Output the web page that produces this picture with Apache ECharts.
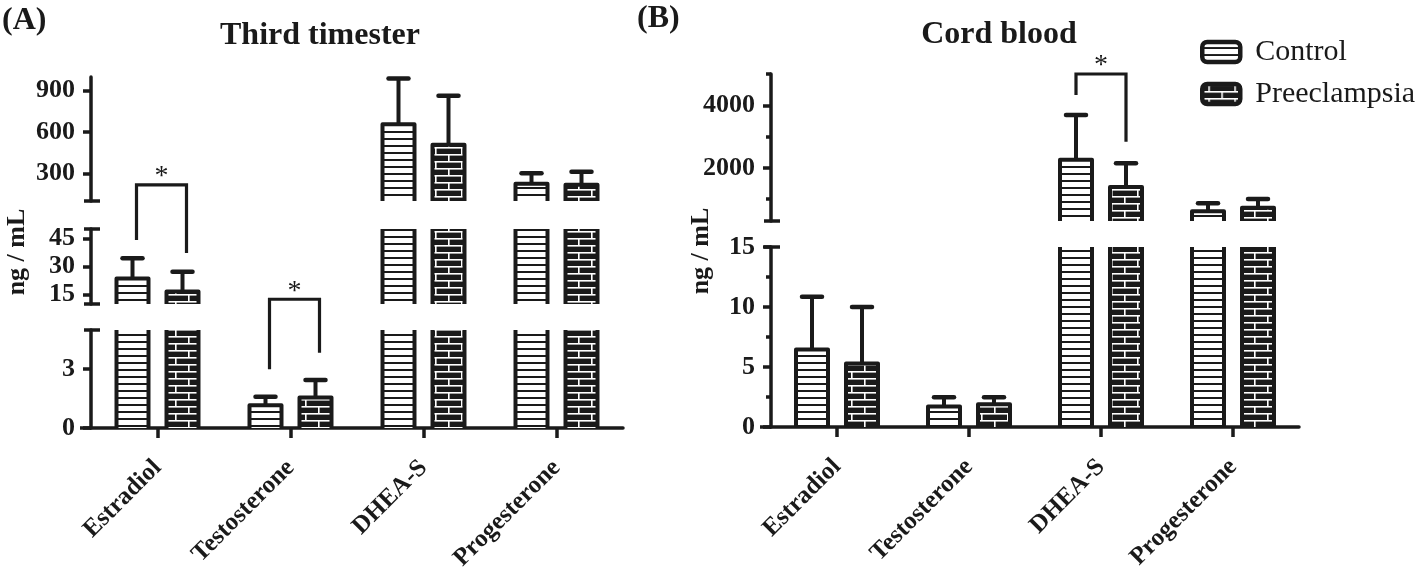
<!DOCTYPE html>
<html><head><meta charset="utf-8">
<script src="https://cdn.jsdelivr.net/npm/echarts@6/dist/echarts.min.js"></script>
<style>html,body{margin:0;padding:0;background:#fff}#c{width:1418px;height:574px}</style>
</head><body><div id="c"></div>
<script>
// ---------------- DATA ----------------
const categories = ['Estradiol', 'Testosterone', 'DHEA-S', 'Progesterone'];
const seriesNames = ['Control', 'Preeclampsia'];
// (A) Third trimester, ng/mL: mean and SD
const thirdControlMean = [23.6, 1.16, 657, 225];
const thirdControlSD   = [10.8, 0.44, 333, 76];
const thirdPreMean     = [16.7, 1.55, 509, 218];
const thirdPreSD       = [10.5, 0.90, 355, 95];
// (B) Cord blood, ng/mL: mean and SD
const cordControlMean = [6.45, 1.7, 2260, 610];
const cordControlSD   = [4.41, 0.77, 1429, 256];
const cordPreMean     = [5.3, 1.9, 1390, 720];
const cordPreSD       = [4.7, 0.57, 755, 283];
// tick labels of each broken-axis segment (bottom to top)
const thirdTicks = [[0, 3], [15, 30, 45], [300, 600, 900]];
const thirdRanges = [[0, 5], [10, 50], [100, 1000]];
const cordTicks = [[0, 5, 10, 15], [2000, 4000]];
const cordMinorTicks = [[2.5, 7.5, 12.5], [1000, 3000, 5000]];
const cordRanges = [[0, 15], [300, 5000]];
// significance brackets: [categoryIndex, left leg end, right leg end, bracket top] in the segment's units
const thirdSig = [[[1, 3.0, 3.84, 6.57]], [[0, 44.1, 37.2, 73.5]], []];
const cordSig = [[], [[2, 4330, 2835, 5000]]];
const sigLabel = '*';

// ---------------- STYLE / LAYOUT ----------------
const FONT = '"Liberation Serif", "Times New Roman", serif';
const INK = '#1a1a1a';
function stripeCanvas() {
  const c = document.createElement('canvas'); c.width = 8; c.height = 7;
  const g = c.getContext('2d');
  g.fillStyle = '#fff'; g.fillRect(0, 0, 8, 7);
  g.fillStyle = INK; g.fillRect(0, 5, 8, 2);
  return c;
}
function brickCanvas() {
  const c = document.createElement('canvas'); c.width = 26; c.height = 14;
  const g = c.getContext('2d');
  g.fillStyle = INK; g.fillRect(0, 0, 26, 14);
  g.fillStyle = '#fff';
  g.fillRect(0, 0, 26, 1.6); g.fillRect(0, 7, 26, 1.6);
  g.fillRect(6, 0, 1.6, 7); g.fillRect(19, 7, 1.6, 7);
  return c;
}
const fills = [{image: stripeCanvas(), repeat: 'repeat'}, {image: brickCanvas(), repeat: 'repeat'}];

const panels = [
  {left: 91, width: 532, segs: [{top: 330, height: 98}, {top: 229, height: 75}, {top: 77, height: 124}],
   ranges: thirdRanges, ticks: thirdTicks, minor: [null, null, null], sig: thirdSig, sigShift: 4,
   means: [thirdControlMean, thirdPreMean], sds: [thirdControlSD, thirdPreSD]},
  {left: 771, width: 528, segs: [{top: 247, height: 180}, {top: 74, height: 147}],
   ranges: cordRanges, ticks: cordTicks, minor: cordMinorTicks, sig: cordSig, sigShift: 0,
   means: [cordControlMean, cordPreMean], sds: [cordControlSD, cordPreSD]}
];
const HALF = 16, OFF = 25;

const grid = [], xAxis = [], yAxis = [], series = [], graphic = [];

function outlineRender(min, max) {
  return function (params, api) {
    const i = api.value(0), mean = api.value(1), sd = api.value(2), s = api.value(3);
    if (mean <= min) return null;
    const cx = api.coord([i, min])[0] + (s === 0 ? -OFF : OFF);
    const yBase = api.coord([i, min])[1];
    const children = [];
    const st = {stroke: INK, lineWidth: 4, fill: null, lineJoin: 'round'};
    if (mean <= max) {
      const yTop = api.coord([i, mean])[1];
      const yErr = api.coord([i, mean + sd])[1];
      children.push({type: 'line', shape: {x1: cx, y1: yTop, x2: cx, y2: yErr}, style: {stroke: INK, lineWidth: 4}});
      children.push({type: 'line', shape: {x1: cx - 10, y1: yErr, x2: cx + 10, y2: yErr}, style: {stroke: INK, lineWidth: 4.5, lineCap: 'round'}});
      children.push({type: 'polyline', shape: {points: [[cx - HALF, yBase], [cx - HALF, yTop], [cx + HALF, yTop], [cx + HALF, yBase]]}, style: st});
    } else {
      const yTop = api.coord([i, max])[1];
      children.push({type: 'line', shape: {x1: cx - HALF, y1: yBase, x2: cx - HALF, y2: yTop}, style: st});
      children.push({type: 'line', shape: {x1: cx + HALF, y1: yBase, x2: cx + HALF, y2: yTop}, style: st});
    }
    return {type: 'group', children: children};
  };
}
function bracketRender(shift) {
  return function (params, api) {
    const i = api.value(0), lv = api.value(1), rv = api.value(2), tv = api.value(3);
    const c = api.coord([i, tv]);
    const xl = c[0] - OFF + shift, xr = c[0] + OFF + shift;
    const yl = api.coord([i, lv])[1], yr = api.coord([i, rv])[1], yt = c[1];
    return {type: 'group', children: [
      {type: 'polyline', shape: {points: [[xl, yl], [xl, yt], [xr, yt], [xr, yr]]},
       style: {stroke: INK, lineWidth: 3.2, fill: null, lineJoin: 'miter'}},
      {type: 'text', style: {text: sigLabel, x: (xl + xr) / 2, y: yt - 8, align: 'center', verticalAlign: 'middle',
        font: '28px ' + FONT, fill: INK}}
    ]};
  };
}

panels.forEach(function (p) {
  p.segs.forEach(function (sg, k) {
    const g = grid.length;
    const min = p.ranges[k][0], max = p.ranges[k][1];
    grid.push({left: p.left, width: p.width, top: sg.top, height: sg.height, containLabel: false, outerBoundsMode: 'none'});
    const isBottom = k === 0;
    xAxis.push({
      type: 'category', gridIndex: g, data: categories, show: isBottom,
      axisLine: {show: true, lineStyle: {color: INK, width: 3.5}},
      axisTick: {show: true, alignWithLabel: true, length: 10, lineStyle: {color: INK, width: 3.5}},
      axisLabel: {show: true, interval: 0, rotate: 45, margin: 36, fontFamily: FONT, fontWeight: 'bold', fontSize: 25, color: INK}
    });
    const yi = yAxis.length;
    yAxis.push({
      type: 'value', gridIndex: g, min: min, max: max, position: 'left',
      splitLine: {show: false},
      axisLine: {show: true, lineStyle: {color: INK, width: 3.5}},
      axisTick: {show: true, inside: false, length: 8, customValues: p.ticks[k], lineStyle: {color: INK, width: 3.5}},
      axisLabel: {show: true, customValues: p.ticks[k], margin: 16, formatter: function (v) { return String(v); },
        fontFamily: FONT, fontWeight: 'bold', fontSize: 26, color: INK}
    });
    if (p.minor[k]) {
      yAxis.push({
        type: 'value', gridIndex: g, min: min, max: max, position: 'left', offset: 0,
        splitLine: {show: false}, axisLine: {show: false}, axisLabel: {show: false},
        axisTick: {show: true, inside: false, length: 5, customValues: p.minor[k], lineStyle: {color: INK, width: 3.5}}
      });
    }
    for (let s = 0; s < 2; s++) {
      series.push({
        type: 'bar', name: seriesNames[s], xAxisIndex: g, yAxisIndex: yi, data: p.means[s],
        barWidth: HALF * 2, barGap: '56.25%', clip: true, silent: true,
        itemStyle: {color: fills[s], borderWidth: 0}
      });
    }
    const rows = [];
    for (let s = 0; s < 2; s++) {
      categories.forEach(function (c, i) { rows.push([i, p.means[s][i], p.sds[s][i], s]); });
    }
    series.push({type: 'custom', xAxisIndex: g, yAxisIndex: yi, data: rows, encode: {x: 0, y: 1}, silent: true, clip: false,
      renderItem: outlineRender(min, max), z: 3});
    if (p.sig[k].length) {
      series.push({type: 'custom', xAxisIndex: g, yAxisIndex: yi, data: p.sig[k], encode: {x: 0, y: 3}, silent: true, clip: false,
        renderItem: bracketRender(p.sigShift), z: 4});
    }
    // break caps on the y axis
    const ax = p.left;
    if (k < p.segs.length - 1) graphic.push({type: 'line', shape: {x1: ax - 7, y1: sg.top, x2: ax + 9, y2: sg.top}, style: {stroke: INK, lineWidth: 3.5}});
    if (k > 0) graphic.push({type: 'line', shape: {x1: ax - 7, y1: sg.top + sg.height, x2: ax + 9, y2: sg.top + sg.height}, style: {stroke: INK, lineWidth: 3.5}});
    if (isBottom) graphic.push({type: 'line', shape: {x1: ax - 11, y1: sg.top + sg.height, x2: ax, y2: sg.top + sg.height}, style: {stroke: INK, lineWidth: 3.5}});
  });
});

function txt(x, y, text, font, align, rot) {
  return {type: 'text', x: x, y: y, rotation: rot || 0,
    style: {text: text, font: font, fill: INK, textAlign: align, textVerticalAlign: 'middle'}};
}
graphic.push(txt(2, 21, '(A)', 'bold 32px ' + FONT, 'left'));
graphic.push(txt(320, 36, 'Third timester', 'bold 32px ' + FONT, 'center'));
graphic.push(txt(637, 19, '(B)', 'bold 32px ' + FONT, 'left'));
graphic.push(txt(999, 35, 'Cord blood', 'bold 32px ' + FONT, 'center'));
graphic.push(txt(17, 252, 'ng / mL', 'bold 26px ' + FONT, 'center', Math.PI / 2));
graphic.push(txt(701, 251, 'ng / mL', 'bold 26px ' + FONT, 'center', Math.PI / 2));

const chart = echarts.init(document.getElementById('c'), null, {renderer: 'canvas'});
chart.setOption({
  animation: false,
  backgroundColor: '#fff',
  grid: grid, xAxis: xAxis, yAxis: yAxis, series: series,
  legend: {
    data: seriesNames, orient: 'vertical', left: 1195, top: 32, itemWidth: 38, itemHeight: 20, itemGap: 12,
    icon: 'roundRect', selectedMode: false,
    itemStyle: {borderColor: INK, borderWidth: 4.5},
    textStyle: {fontFamily: FONT, fontSize: 30, color: INK, padding: [0, 0, 0, 10]}
  },
  graphic: graphic
});
</script>
</body></html>
